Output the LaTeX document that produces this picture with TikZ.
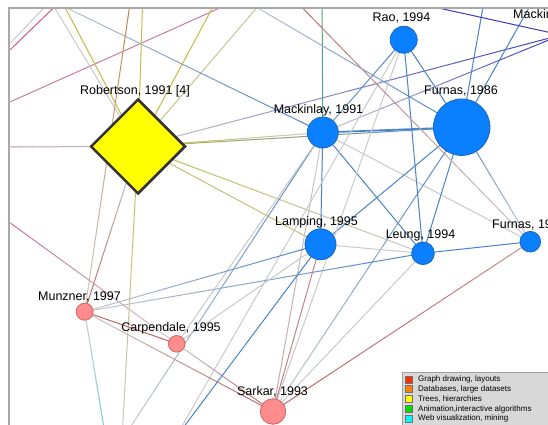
\documentclass[tikz,border=0pt]{standalone}
\usepackage{fontspec}
\setmainfont{Liberation Sans}
\usetikzlibrary{shapes.geometric,calc}
\pgfdeclarelayer{edges}
\pgfsetlayers{edges,main}

% node and edge palette
\definecolor{nodeblue}{HTML}{0A80FF}
\definecolor{nodeblueline}{HTML}{1A64C0}
\definecolor{nodepink}{HTML}{FF8C8C}
\definecolor{nodepinkline}{HTML}{CC6666}
\definecolor{hubyellow}{HTML}{FFFF00}
\definecolor{hubline}{HTML}{333333}
\definecolor{framegray}{HTML}{A8A8A8}
\definecolor{legendbg}{HTML}{D8D8D8}
\definecolor{legendline}{HTML}{A0A0A0}
\definecolor{B}{HTML}{4A84C8}
\definecolor{G}{HTML}{CACACA}
\definecolor{Y}{HTML}{C2BC48}
\definecolor{R}{HTML}{BC6868}
\definecolor{M}{HTML}{CC5A90}
\definecolor{O}{HTML}{C4803E}
\definecolor{V}{HTML}{3C3CBC}
\definecolor{GR}{HTML}{58AC80}
\definecolor{C}{HTML}{68CCD4}
\definecolor{kred}{HTML}{FF2A00}
\definecolor{korange}{HTML}{FF8000}
\definecolor{kyellow}{HTML}{FFFF00}
\definecolor{kgreen}{HTML}{00E000}
\definecolor{kcyan}{HTML}{00FFFF}
\definecolor{kblue}{HTML}{80B0FF}

\tikzset{
  edge/.style={line width=1pt,line cap=round},
  bnode/.style={circle,fill=nodeblue,draw=nodeblueline,line width=0.8pt,inner sep=0pt},
  pnode/.style={circle,fill=nodepink,draw=nodepinkline,line width=0.8pt,inner sep=0pt},
  hub/.style={diamond,fill=hubyellow,draw=hubline,line width=2.5pt,inner sep=0pt,
    minimum width=95pt,minimum height=95pt},
  lbl/.style={font=\fontsize{12.5}{14}\selectfont,anchor=base,inner sep=0pt},
  legtext/.style={font=\fontsize{8}{9}\selectfont,anchor=west,inner sep=0pt},
  legkey/.style={draw=hubline!70,line width=0.5pt,minimum size=7pt,inner sep=0pt},
}

% an edge whose colour fades from #4 (at #2) to #5 (at #3)
\newcommand{\gradedge}[5][]{%
  \foreach \gi in {0,...,11}{%
    \pgfmathsetmacro{\ga}{\gi/12}%
    \pgfmathsetmacro{\gb}{(\gi+1)/12}%
    \pgfmathtruncatemacro{\gp}{100-(\gi+0.5)*100/12}%
    \draw[edge,#1,color=#4!\gp!#5] ($(#2)!\ga!(#3)$) -- ($(#2)!\gb!(#3)$);
  }}

\begin{document}
\begin{tikzpicture}[x=1pt,y=-1pt]
\useasboundingbox (0,0) rectangle (548,425);

% ---- nodes ----
\begin{scope}
\clip (10.3,8.7) rectangle (548,425);
\node[hub] (rob) at (138,146.5) {};
\node[bnode,minimum size=31pt] (mk) at (322.8,132.5) {};
\node[bnode,minimum size=56.5pt] (f86) at (461.7,127.2) {};
\node[bnode,minimum size=27pt] (rao) at (403.7,39.7) {};
\node[bnode,minimum size=20pt] (mkx) at (561,35) {};
\node[bnode,minimum size=31pt] (lam) at (320.5,244.3) {};
\node[bnode,minimum size=22.6pt] (leu) at (423,253.3) {};
\node[bnode,minimum size=20.6pt] (f19) at (530.3,241.7) {};
\node[pnode,minimum size=17pt] (mun) at (84.7,311.7) {};
\node[pnode,minimum size=16.6pt] (car) at (176.7,343.8) {};
\node[pnode,minimum size=25.5pt] (sar) at (273,411.5) {};

\node[lbl] (rob-l) at (135,94.3) {Robertson, 1991 [4]};
\node[lbl] (mk-l) at (318.5,113.3) {Mackinlay, 1991};
\node[lbl] (f86-l) at (461,95) {Furnas, 1986};
\node[lbl] (rao-l) at (401.5,22) {Rao, 1994};
\node[lbl,anchor=base west] (mkx-l) at (513,18.3) {Mackin};
\node[lbl] (lam-l) at (316.5,225) {Lamping, 1995};
\node[lbl] (leu-l) at (420.5,238) {Leung, 1994};
\node[lbl,anchor=base west] (f19-l) at (492,228.3) {Furnas, 19};
\node[lbl] (mun-l) at (79.5,300) {Munzner, 1997};
\node[lbl] (car-l) at (171,331) {Carpendale, 1995};
\node[lbl] (sar-l) at (272.5,395) {Sarkar, 1993};
\end{scope}

% ---- endpoints beyond the visible frame ----
\coordinate (oTLa) at (-20,74.8);
\coordinate (oTLb) at (61,-10);
\coordinate (oTMa) at (-20,78.9);
\coordinate (oTMb) at (72,-10);
\coordinate (oA) at (44,-10);
\coordinate (oB) at (56,-10);
\coordinate (oC) at (30,-10);
\coordinate (oD1) at (-20,115.4);
\coordinate (oD2) at (260,-10);
\coordinate (oE) at (132,-10);
\coordinate (oF) at (143,-10);
\coordinate (oG) at (222,-10);
\coordinate (oH) at (272,-10);
\coordinate (oI) at (-20,147);
\coordinate (oJ) at (357,-10);
\coordinate (oK) at (322,-10);
\coordinate (oL) at (285,-10);
\coordinate (oM) at (227,-10);
\coordinate (oN) at (486,-10);
\coordinate (oO) at (539,-10);
\coordinate (oR) at (106,440);
\coordinate (oS) at (122,440);
\coordinate (oT) at (174,440);
\coordinate (oU) at (-20,201);

% ---- edges ----
\begin{pgfonlayer}{edges}
\fill[white] (0,0) rectangle (548,425);
\begin{scope}
\clip (10.3,8.7) rectangle (548,425);
% passing lines in the upper left corner
\gradedge{oTLa}{oTLb}{G}{G}
\gradedge{oTMa}{oTMb}{M}{M}
\gradedge{oD1}{oD2}{M}{M!70!G}
% Robertson
\gradedge{oA}{rob}{G}{G}
\gradedge{oB}{rob}{Y}{Y}
\gradedge{oF}{rob}{Y}{Y}
\gradedge{oG}{rob}{Y}{Y}
\gradedge{oH}{rob}{Y!45!G}{Y!60!G}
\gradedge{oI}{rob}{M!70!G}{G}
\gradedge{rob}{mk}{Y}{G}
\gradedge{rob}{f86}{Y}{B}
\gradedge{rob}{mkx}{G}{V}
\gradedge{rob}{lam}{Y}{Y!60!G}
\gradedge{rob}{leu}{Y}{G}
\gradedge{rob}{oS}{Y}{G}
\gradedge{mun}{rob}{R}{G}
% Mackinlay
\gradedge{oC}{mk}{G}{B}
\gradedge{oK}{mk}{GR}{B!50!GR}
\gradedge{mk}{mkx}{G}{V}
\gradedge{mk}{rao}{B!60!G}{B}
\gradedge[line width=1.7pt]{mk}{f86}{B}{B}
\gradedge{mk}{lam}{B}{B}
\gradedge{mk}{leu}{B}{B}
\gradedge{mk}{f19}{G}{G}
\gradedge{mk}{oS}{B}{G}
\gradedge{mk}{sar}{G}{R!40!G}
\gradedge{car}{mk}{G}{G}
% Furnas 1986
\gradedge{f86}{rao}{B}{B}
\gradedge{f86}{lam}{B}{B}
\gradedge{f86}{leu}{B}{B}
\gradedge{f86}{f19}{B}{G}
\gradedge{f86}{oN}{B}{B}
\gradedge{f86}{oO}{B}{B}
\gradedge{oM}{f86}{G}{B}
\gradedge{f86}{sar}{B}{G}
% Rao
\gradedge{rao}{leu}{B}{B}
\gradedge{rao}{sar}{G}{G}
\gradedge{rao}{oT}{G}{G}
% the rest
\gradedge{oJ}{mkx}{V}{V}
\gradedge{oL}{f19}{R}{G}
\gradedge{lam}{leu}{G}{G}
\gradedge{mun}{lam}{G}{B}
\gradedge{mun}{leu}{G}{B}
\gradedge{mun}{car}{R}{R}
\gradedge{mun}{sar}{G}{R}
\gradedge{oE}{mun}{O}{G}
\gradedge{mun}{oR}{G}{C}
\gradedge{oU}{car}{M}{G}
\gradedge{car}{lam}{G}{G}
\gradedge{car}{sar}{G}{R}
\gradedge{lam}{oT}{B}{B}
\gradedge{lam}{sar}{R}{R!70!G}
\gradedge{leu}{sar}{G}{G}
\gradedge{leu}{f19}{B}{B}
\gradedge{f19}{sar}{R!60!G}{R}
\end{scope}
\end{pgfonlayer}

% ---- legend ----
\draw[fill=legendbg,draw=legendline,line width=0.8pt] (402,372) rectangle (560,440);
\node[legkey,fill=kred] (k1) at (409.2,379.3) {};
\node[legkey,fill=korange] (k2) at (409.2,389) {};
\node[legkey,fill=kyellow] (k3) at (409.2,399) {};
\node[legkey,fill=kgreen] (k4) at (409.2,409) {};
\node[legkey,fill=kcyan] (k5) at (409.2,418.7) {};
\node[legkey,fill=kblue] (k6) at (409.2,428.3) {};
\node[legtext] (t1) at (418,379.3) {Graph drawing, layouts};
\node[legtext] (t2) at (418,389) {Databases, large datasets};
\node[legtext] (t3) at (418,399) {Trees, hierarchies};
\node[legtext] (t4) at (418,409) {Animation,interactive algorithms};
\node[legtext] (t5) at (418,418.7) {Web visualization, mining};

% ---- frame ----
\draw[framegray,line width=2pt] (9.3,425) -- (9.3,7.7) -- (548,7.7);
\end{tikzpicture}
\end{document}
